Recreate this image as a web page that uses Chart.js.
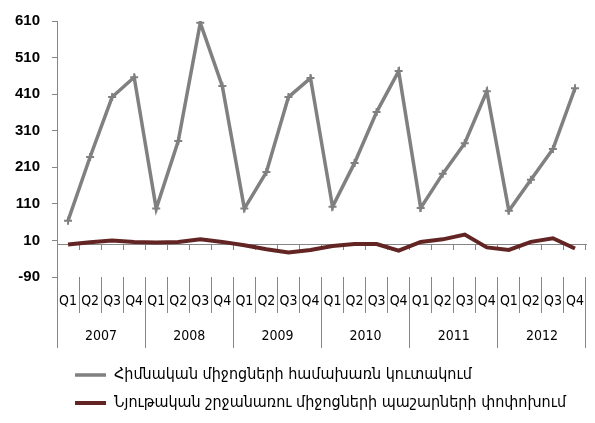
<!DOCTYPE html>
<html>
<head>
<meta charset="utf-8">
<script src="https://cdn.jsdelivr.net/npm/chart.js@4.4.1/dist/chart.umd.min.js"></script>
<style>
html,body{margin:0;padding:0;background:#fff}
#wrap{width:595px;height:423px}
</style>
</head>
<body>
<div id="wrap"><canvas id="chart"></canvas></div>
<script>
// quarters and years for the two-level category axis
const quarters=['Q1','Q2','Q3','Q4','Q1','Q2','Q3','Q4','Q1','Q2','Q3','Q4',
                'Q1','Q2','Q3','Q4','Q1','Q2','Q3','Q4','Q1','Q2','Q3','Q4']
const years=['2007','2008','2009','2010','2011','2012']
const seriesNames=['Հիմնական միջոցների համախառն կուտակում',
                   'Նյութական շրջանառու միջոցների պաշարների փոփոխում']
// values
const grossFixed=[64,238,402,456, 97,282,605,432, 97,197,402,454,
                  102,222,361,473, 99,192,276,418, 91,176,260,426]
const inventories=[-1,5,10,6, 4,6,13,6, -3,-14,-23,-16,
                   -5,0,0,-18, 6,13,26,-9, -16,6,16,-12]
const yMin=-90, yMax=610, yStep=100

const axisGray='#868686'
const narrow="'Liberation Sans Narrow','DejaVu Sans Condensed',sans-serif"

// legend rows start a bit right of the plot edge in the original
const legendNudge={
  id:'legendNudge',
  afterLayout(chart){
    chart.legend.left+=6
    chart.legend.right+=6
  }
}

const ctx=document.getElementById('chart').getContext('2d')
new Chart(ctx,{
  type:'line',
  data:{
    labels:quarters,
    datasets:[{
      label:seriesNames[0],
      data:grossFixed,
      borderColor:'#808080',
      backgroundColor:'#808080',
      borderWidth:3.5,
      pointStyle:'cross',
      pointRadius:4,
      pointBorderWidth:2,
      pointBorderColor:'#808080',
      tension:0
    },{
      label:seriesNames[1],
      data:inventories,
      borderColor:'#632523',
      backgroundColor:'#632523',
      borderWidth:4,
      pointRadius:0,
      tension:0
    }]
  },
  options:{
    responsive:true,
    maintainAspectRatio:false,
    animation:false,
    layout:{padding:{left:3,right:9,top:20,bottom:2}},
    plugins:{
      tooltip:{enabled:false},
      legend:{
        position:'bottom',
        align:'start',
        fullSize:false,
        labels:{
          boxWidth:31,
          boxHeight:0,
          padding:12,
          color:'#000',
          font:{family:"'DejaVu Sans Condensed','DejaVu Sans',sans-serif",size:16}
        }
      }
    },
    scales:{
      x:{
        type:'category',
        position:{y:0},
        offset:true,
        grid:{offset:true,drawOnChartArea:false,tickLength:5,color:axisGray},
        border:{color:axisGray},
        ticks:{display:false}
      },
      // quarter row: dividers 36px long, labels sit between them
      xq:{
        type:'category',
        labels:quarters,
        position:'bottom',
        offset:true,
        grid:{offset:true,drawOnChartArea:false,tickLength:36,color:axisGray},
        border:{display:false},
        ticks:{autoSkip:false,maxRotation:0,padding:-20,color:'#000',
               font:{family:narrow,size:14}},
        afterFit(scale){scale.height=36}
      },
      // year row
      xy:{
        type:'category',
        labels:years,
        position:'bottom',
        offset:true,
        grid:{offset:true,drawOnChartArea:false,tickLength:35,color:axisGray},
        border:{display:false},
        ticks:{autoSkip:false,maxRotation:0,padding:-20,color:'#000',
               font:{family:narrow,size:14}},
        afterFit(scale){scale.height=42}
      },
      y:{
        min:yMin,
        max:yMax,
        grid:{drawOnChartArea:false,tickLength:5,color:axisGray},
        border:{color:axisGray},
        ticks:{stepSize:yStep,padding:12,color:'#000',
               font:{family:"'Liberation Sans',Arial,sans-serif",size:15,weight:'bold'}}
      }
    }
  },
  plugins:[legendNudge]
})
</script>
</body>
</html>
